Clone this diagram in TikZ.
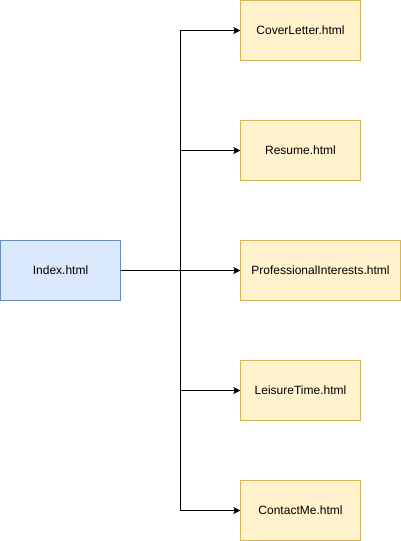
\documentclass[tikz,border=0pt]{standalone}
\usepackage{fontspec}
\setmainfont{Liberation Sans}
\usetikzlibrary{arrows.meta}
\definecolor{homefill}{HTML}{DAE8FC}
\definecolor{homeline}{HTML}{6C8EBF}
\definecolor{pagefill}{HTML}{FFF2CC}
\definecolor{pageline}{HTML}{D6B656}
\tikzset{
  home/.style={draw=homeline, fill=homefill, minimum width=120pt, minimum height=60pt, inner sep=0pt, font=\fontsize{12}{14}\selectfont},
  page/.style={draw=pageline, fill=pagefill, minimum width=120pt, minimum height=60pt, inner sep=0pt, font=\fontsize{12}{14}\selectfont},
  link/.style={-{Stealth[length=7pt,width=7pt,inset=1.5pt]}, line width=1pt}
}
\begin{document}
\begin{tikzpicture}[x=1pt, y=1pt]
        \useasboundingbox (0,0) rectangle (401,-541);
        \node[home] (index) at (60.5, -270.5) {Index.html};
        \node[page] (cover) at (300.5, -30.5) {CoverLetter.html};
        \node[page] (resume) at (300.5, -150.5) {Resume.html};
        \node[page, minimum width=160pt] (interests) at (320.5, -270.5) {ProfessionalInterests.html};
        \node[page] (leisure) at (300.5, -390.5) {LeisureTime.html};
        \node[page] (contact) at (300.5, -510.5) {ContactMe.html};
        \coordinate (split) at (180.5, -270.5);

        \draw[link] (index) -- (split) |- (cover);
        \draw[link] (index) -- (split) |- (resume);
        \draw[link] (index) -- (interests);
        \draw[link] (index) -- (split) |- (leisure);
        \draw[link] (index) -- (split) |- (contact);
    \end{tikzpicture}
\end{document}
